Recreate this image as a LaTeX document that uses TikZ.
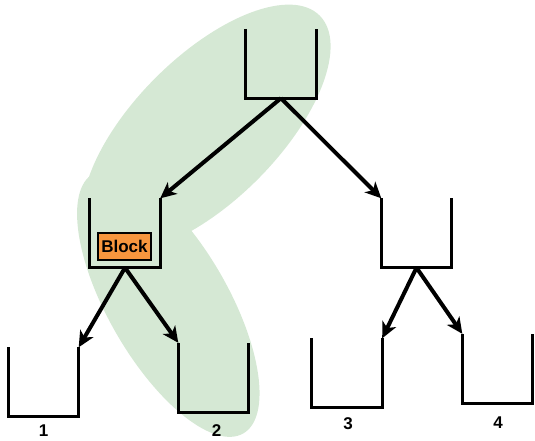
\documentclass[tikz,border=0pt]{standalone}
\usepackage{fontspec}
\setmainfont{Liberation Sans}
\usetikzlibrary{arrows.meta}
\definecolor{groupgreen}{RGB}{213,232,212}
\definecolor{blockorange}{RGB}{247,150,62}
\tikzset{
  bucket/.style={rectangle, inner sep=0pt, minimum width=70pt, minimum height=69pt},
  bucketline/.style={line width=3pt, line join=miter},
  link/.style={line width=4pt, -{Stealth[length=16pt,width=15pt,inset=4.5pt]}},
  blockbox/.style={draw, fill=blockorange, line width=2.6pt, minimum width=53pt, minimum height=27pt, inner sep=0pt, font=\bfseries\fontsize{17}{19}\selectfont},
  leaflabel/.style={font=\bfseries\fontsize{17}{19}\selectfont, inner sep=0pt}
}
\newcommand{\drawbucket}[1]{\draw[bucketline] (#1.north west) -- (#1.south west) -- (#1.south east) -- (#1.north east);}
\begin{document}
\begin{tikzpicture}[x=1pt,y=-1pt]
  \useasboundingbox (0,0) rectangle (535,440);
  % highlighted path through the tree
  \fill[groupgreen, rotate around={45:(206.5,128.7)}] (206.5,128.7) ellipse [x radius=160, y radius=72];
  \fill[groupgreen, rotate around={-60:(168.3,303.5)}] (168.3,303.5) ellipse [x radius=150, y radius=60];

  % buckets
  \node[bucket] (root) at (281,63.5) {};
  \node[bucket] (left) at (125,233) {};
  \node[bucket] (right) at (416.5,233) {};
  \node[bucket] (b1) at (43.5,382) {};
  \node[bucket] (b2) at (213.5,377.5) {};
  \node[bucket] (b3) at (347,373) {};
  \node[bucket] (b4) at (497.5,368.5) {};
  \foreach \b in {root,left,right,b1,b2,b3,b4} {\drawbucket{\b}}

  % block inside the left bucket
  \node[blockbox] (block) at (124.5,246.5) {Block};

  % leaf labels
  \node[leaflabel] (l1) at (43.5,431) {1};
  \node[leaflabel] (l2) at (216.5,431) {2};
  \node[leaflabel] (l3) at (348,424) {3};
  \node[leaflabel] (l4) at (498,423) {4};

  % links
  \draw[link] (root.south) -- (left.north east);
  \draw[link] (root.south) -- (right.north west);
  \draw[link] (left.south) -- (b1.north east);
  \draw[link] (left.south) -- (b2.north west);
  \draw[link] (right.south) -- (b3.north east);
  \draw[link] (right.south) -- (b4.north west);
\end{tikzpicture}
\end{document}
